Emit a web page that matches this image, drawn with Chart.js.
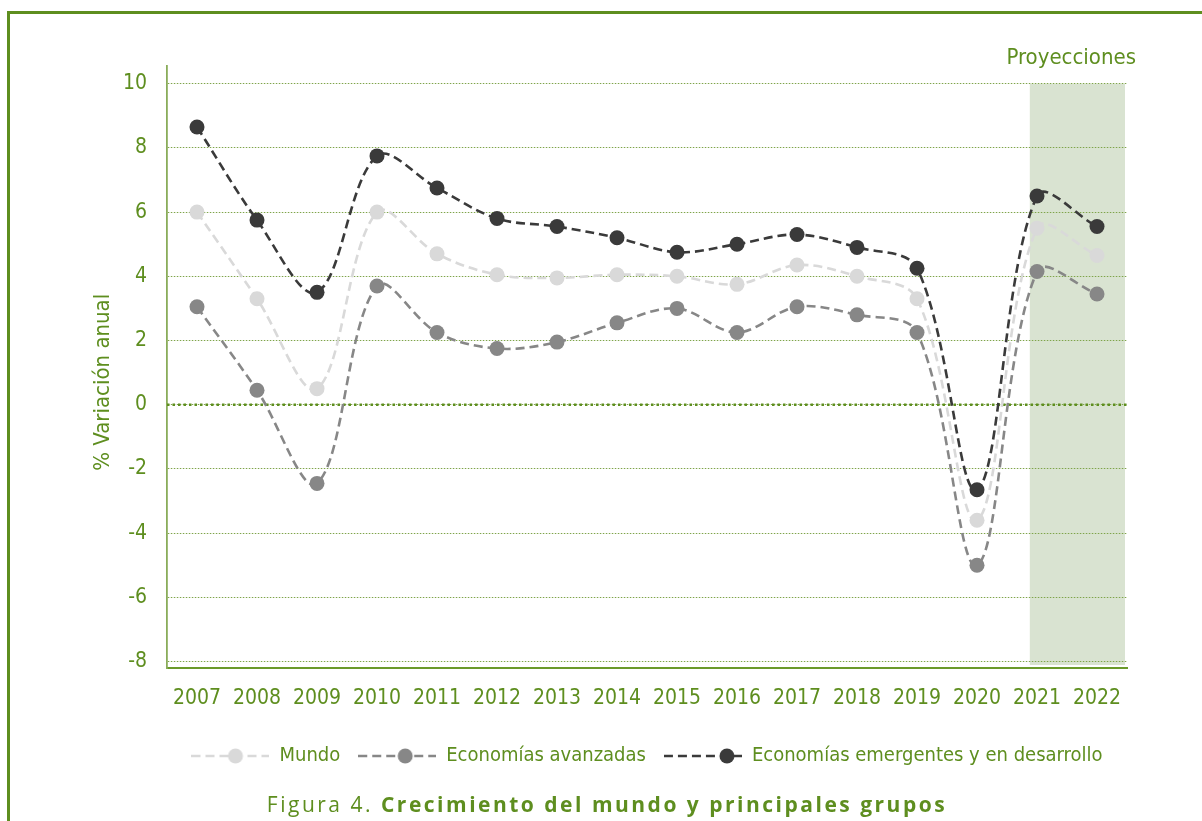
<!DOCTYPE html>
<html><head><meta charset="utf-8">
<script src="https://cdn.jsdelivr.net/npm/chart.js@4"></script>
<style>
html,body{margin:0;padding:0;background:#fff;width:1202px;height:821px;overflow:hidden;}
#frame{position:absolute;left:7px;top:11px;width:1400px;height:1000px;border:3px solid #5e8e1f;box-sizing:border-box;}
#wrap{position:absolute;left:0;top:0;width:1202px;height:821px;}
#caption{position:absolute;left:6px;width:1202px;top:790px;text-align:center;font-family:"Open Sans",Lato,sans-serif;font-size:21px;line-height:28px;color:#5e8e1f;letter-spacing:2.5px;white-space:nowrap;}
#caption b{font-weight:700;}
#caption span{font-weight:400;}
</style>
</head><body>
<div id="frame"></div>
<div id="wrap"><canvas id="c"></canvas></div>
<div id="caption"><span>Figura 4.</span> <b>Crecimiento del mundo y principales grupos</b></div>
<script>
const years = ['2007','2008','2009','2010','2011','2012','2013','2014','2015','2016','2017','2018','2019','2020','2021','2022'];
const mundo = [6.0,3.3,0.5,6.0,4.7,4.05,3.95,4.05,4.0,3.75,4.35,4.0,3.3,-3.6,5.5,4.65];
const avanzadas = [3.05,0.45,-2.45,3.7,2.25,1.75,1.95,2.55,3.0,2.25,3.05,2.8,2.25,-5.0,4.15,3.45];
const emergentes = [8.65,5.75,3.5,7.75,6.75,5.8,5.55,5.2,4.75,5.0,5.3,4.9,4.25,-2.65,6.5,5.55];
const seriesNames = ['Mundo','Economías avanzadas','Economías emergentes y en desarrollo'];
const yTicks = [-8,-6,-4,-2,0,2,4,6,8,10];
const projectionLabel = 'Proyecciones';
const projectionStart = '2021';
const yTitle = '% Variación anual';

const GREEN = '#5e8e1f';
const GRID = '#7fa44a';
const COLORS = ['#d9d9d9','#878787','#3a3a3a'];
const FONT = '"Liberation Sans Narrow","DejaVu Sans Condensed","Roboto",sans-serif';

function legendIcon(color, dotX){
  const cv = document.createElement('canvas');
  cv.width = 78; cv.height = 20;
  const g = cv.getContext('2d');
  g.strokeStyle = color; g.lineWidth = 2.5; g.setLineDash([9,5]);
  g.beginPath(); g.moveTo(0,10); g.lineTo(78,10); g.stroke();
  g.fillStyle = color; g.beginPath(); g.arc(dotX,10,7.5,0,Math.PI*2); g.fill();
  return cv;
}
const icons = [legendIcon(COLORS[0],44), legendIcon(COLORS[1],47), legendIcon(COLORS[2],63)];

const decoPlugin = {
  id:'deco',
  beforeDraw(chart){
    const {ctx, chartArea, scales:{x,y}} = chart;
    const i = years.indexOf(projectionStart);
    const x0 = x.getPixelForValue(i - 0.12);
    const yt = y.getPixelForValue(yTicks[yTicks.length-1]);
    ctx.save();
    ctx.fillStyle = '#d9e3d1';
    ctx.fillRect(x0, yt, chartArea.right - x0 - 2, chartArea.bottom - 3 - yt);
    ctx.restore();
  },
  beforeDatasetsDraw(chart){
    const {ctx, chartArea, scales:{y}} = chart;
    const y0 = y.getPixelForValue(0);
    ctx.save();
    ctx.strokeStyle = '#5e8e1f'; ctx.lineWidth = 2.5; ctx.setLineDash([2.5,3]);
    ctx.beginPath(); ctx.moveTo(chartArea.left, y0); ctx.lineTo(chartArea.right, y0); ctx.stroke();
    ctx.restore();
  },
  afterDraw(chart){
    const {ctx, chartArea, scales:{y}} = chart;
    ctx.save();
    ctx.fillStyle = GREEN;
    ctx.font = '22px ' + FONT;
    ctx.textAlign = 'right'; ctx.textBaseline = 'middle';
    ctx.fillText(projectionLabel, chartArea.right + 9, 58);
    ctx.translate(103, y.getPixelForValue(0.7));
    ctx.rotate(-Math.PI/2);
    ctx.textAlign = 'center';
    ctx.fillText(yTitle, 0, 0);
    ctx.restore();
  }
};

const data = [mundo, avanzadas, emergentes];
new Chart(document.getElementById('c'), {
  type:'line',
  data:{
    labels: years,
    datasets: data.map((d,k)=>({
      label: seriesNames[k], data: d,
      borderColor: COLORS[k], backgroundColor: COLORS[k],
      borderWidth: 2.6, borderDash:[9,5], tension:0.35,
      pointRadius:7.5, pointHoverRadius:7.5, pointBorderWidth:0,
      pointBackgroundColor: COLORS[k]
    }))
  },
  options:{
    responsive:true, maintainAspectRatio:false, animation:false,
    layout:{padding:{left:80,right:75,top:66,bottom:45}},
    plugins:{
      tooltip:{enabled:false},
      legend:{
        position:'bottom', fullSize:false,
        labels:{
          usePointStyle:true, pointStyleWidth:78, padding:18,
          color: GREEN, font:{family:FONT, size:20},
          generateLabels(chart){
            return chart.data.datasets.map((ds,k)=>({
              text: ds.label, pointStyle: icons[k], fontColor: GREEN,
              fillStyle:'transparent', strokeStyle:'transparent', lineWidth:0, datasetIndex:k, hidden:false
            }));
          }
        }
      }
    },
    scales:{
      x:{
        offset:true,
        grid:{display:false},
        border:{display:true, color:'#6a9a2a', width:2},
        ticks:{color:GREEN, font:{family:FONT,size:21}, padding:10, maxRotation:0, autoSkip:false},
        afterFit(s){ s.height = 60; }
      },
      y:{
        min:-8.2, max:10.55,
        afterBuildTicks(s){ s.ticks = yTicks.map(v=>({value:v})); },
        grid:{color:GRID, lineWidth:1, drawTicks:false},
        border:{display:true, color:'#8aac5a', width:1.8, dash:[1.5,1.5]},
        ticks:{color:GREEN, font:{family:FONT,size:21}, padding:20},
        afterFit(s){ s.width = 87; }
      }
    }
  },
  plugins:[decoPlugin]
});
</script>
</body></html>
